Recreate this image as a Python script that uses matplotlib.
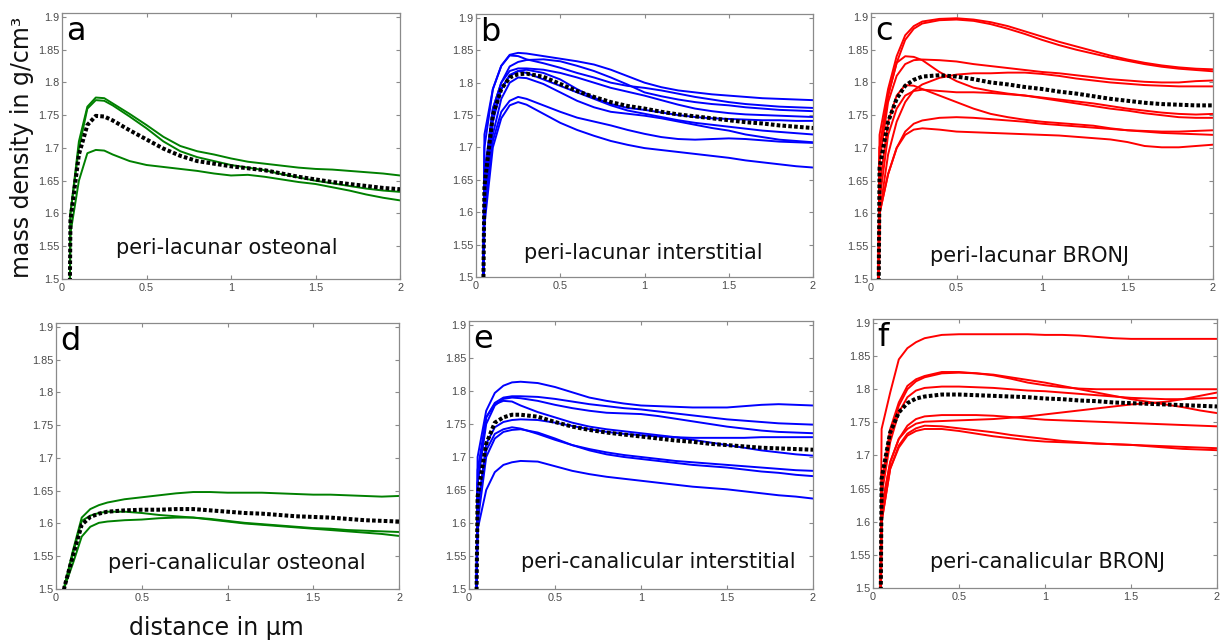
import matplotlib
matplotlib.use("Agg")
import matplotlib.pyplot as plt
from matplotlib.ticker import FuncFormatter

# distance from the lacuna / canaliculus wall (µm)
distance = [0.04, 0.05, 0.1, 0.15, 0.2, 0.25, 0.3, 0.4, 0.5, 0.6, 0.7, 0.8,
            0.9, 1.0, 1.1, 1.2, 1.3, 1.4, 1.5, 1.6, 1.7, 1.8, 1.9, 2.0]

# ---- peri-lacunar, osteonal (g/cm^3) ----
lac_osteonal = [
    [1.30, 1.60, 1.71, 1.763, 1.777, 1.776, 1.768, 1.752, 1.735, 1.717, 1.703, 1.695,
     1.690, 1.684, 1.679, 1.676, 1.673, 1.670, 1.668, 1.667, 1.665, 1.663, 1.661, 1.658],
    [1.30, 1.60, 1.70, 1.760, 1.773, 1.772, 1.765, 1.748, 1.730, 1.710, 1.695, 1.686,
     1.680, 1.674, 1.670, 1.666, 1.660, 1.655, 1.650, 1.646, 1.642, 1.638, 1.635, 1.633],
    [1.30, 1.57, 1.65, 1.692, 1.697, 1.696, 1.690, 1.680, 1.674, 1.671, 1.668, 1.665,
     1.661, 1.658, 1.659, 1.656, 1.652, 1.648, 1.645, 1.640, 1.635, 1.629, 1.624, 1.620],
]
lac_osteonal_mean = [1.30, 1.59, 1.69, 1.735, 1.749, 1.748, 1.742, 1.727, 1.713, 1.699,
                     1.688, 1.680, 1.676, 1.672, 1.669, 1.666, 1.661, 1.656, 1.652, 1.648,
                     1.645, 1.642, 1.639, 1.637]

# ---- peri-lacunar, interstitial ----
lac_interstitial = [
    [1.40, 1.70, 1.79, 1.826, 1.843, 1.846, 1.845, 1.841, 1.837, 1.833, 1.828, 1.820,
     1.810, 1.800, 1.793, 1.788, 1.785, 1.782, 1.780, 1.778, 1.776, 1.775, 1.774, 1.773],
    [1.40, 1.72, 1.79, 1.826, 1.842, 1.841, 1.836, 1.830, 1.823, 1.815, 1.808, 1.800,
     1.795, 1.792, 1.788, 1.783, 1.778, 1.774, 1.770, 1.767, 1.765, 1.763, 1.762, 1.761],
    [1.40, 1.66, 1.76, 1.800, 1.825, 1.832, 1.835, 1.836, 1.833, 1.826, 1.818, 1.808,
     1.797, 1.785, 1.779, 1.774, 1.770, 1.767, 1.765, 1.762, 1.760, 1.758, 1.757, 1.756],
    [1.40, 1.65, 1.76, 1.800, 1.818, 1.822, 1.822, 1.820, 1.815, 1.808, 1.800, 1.792,
     1.786, 1.780, 1.773, 1.766, 1.760, 1.756, 1.753, 1.751, 1.750, 1.749, 1.748, 1.747],
    [1.40, 1.64, 1.75, 1.790, 1.810, 1.818, 1.820, 1.815, 1.805, 1.790, 1.777, 1.767,
     1.761, 1.758, 1.754, 1.750, 1.747, 1.745, 1.744, 1.743, 1.742, 1.742, 1.741, 1.741],
    [1.40, 1.62, 1.74, 1.790, 1.812, 1.818, 1.815, 1.805, 1.795, 1.785, 1.775, 1.765,
     1.757, 1.752, 1.747, 1.742, 1.738, 1.735, 1.732, 1.729, 1.726, 1.724, 1.722, 1.720],
    [1.40, 1.60, 1.72, 1.775, 1.800, 1.808, 1.807, 1.798, 1.785, 1.772, 1.762, 1.755,
     1.752, 1.749, 1.745, 1.740, 1.735, 1.730, 1.726, 1.720, 1.716, 1.712, 1.710, 1.708],
    [1.40, 1.60, 1.71, 1.755, 1.772, 1.778, 1.775, 1.765, 1.755, 1.746, 1.740, 1.734,
     1.727, 1.721, 1.716, 1.713, 1.712, 1.713, 1.714, 1.713, 1.711, 1.709, 1.708, 1.707],
    [1.40, 1.58, 1.70, 1.745, 1.765, 1.770, 1.766, 1.752, 1.738, 1.727, 1.718, 1.710,
     1.704, 1.699, 1.696, 1.693, 1.690, 1.687, 1.684, 1.680, 1.677, 1.674, 1.671, 1.669],
]
lac_interstitial_mean = [1.40, 1.64, 1.75, 1.790, 1.808, 1.813, 1.814, 1.809, 1.798, 1.787,
                         1.778, 1.770, 1.764, 1.760, 1.755, 1.751, 1.748, 1.745, 1.742, 1.739,
                         1.737, 1.734, 1.732, 1.730]

# ---- peri-lacunar, BRONJ ----
lac_bronj = [
    [1.40, 1.72, 1.79, 1.840, 1.872, 1.886, 1.893, 1.897, 1.898, 1.896, 1.892, 1.886,
     1.878, 1.870, 1.862, 1.855, 1.848, 1.841, 1.835, 1.830, 1.826, 1.823, 1.821, 1.820],
    [1.40, 1.70, 1.78, 1.830, 1.865, 1.882, 1.890, 1.895, 1.896, 1.894, 1.889, 1.882,
     1.874, 1.865, 1.857, 1.850, 1.844, 1.838, 1.833, 1.828, 1.824, 1.821, 1.819, 1.817],
    [1.40, 1.70, 1.78, 1.830, 1.840, 1.839, 1.834, 1.816, 1.802, 1.792, 1.787, 1.783,
     1.780, 1.777, 1.774, 1.771, 1.768, 1.764, 1.760, 1.757, 1.754, 1.752, 1.751, 1.752],
    [1.40, 1.68, 1.77, 1.810, 1.828, 1.834, 1.835, 1.834, 1.832, 1.828, 1.825, 1.822,
     1.819, 1.816, 1.814, 1.811, 1.808, 1.805, 1.803, 1.801, 1.800, 1.800, 1.802, 1.803],
    [1.30, 1.60, 1.69, 1.740, 1.770, 1.788, 1.797, 1.807, 1.812, 1.814, 1.814, 1.815,
     1.815, 1.813, 1.810, 1.806, 1.803, 1.800, 1.798, 1.796, 1.795, 1.794, 1.794, 1.794],
    [1.40, 1.64, 1.74, 1.780, 1.796, 1.795, 1.790, 1.780, 1.770, 1.760, 1.752, 1.747,
     1.743, 1.740, 1.738, 1.736, 1.734, 1.730, 1.727, 1.726, 1.725, 1.725, 1.726, 1.727],
    [1.40, 1.62, 1.72, 1.760, 1.780, 1.787, 1.789, 1.787, 1.785, 1.785, 1.784, 1.782,
     1.780, 1.776, 1.772, 1.768, 1.764, 1.760, 1.757, 1.753, 1.750, 1.747, 1.746, 1.746],
    [1.30, 1.60, 1.66, 1.700, 1.725, 1.737, 1.742, 1.746, 1.747, 1.746, 1.744, 1.742,
     1.740, 1.737, 1.735, 1.733, 1.731, 1.729, 1.727, 1.725, 1.723, 1.722, 1.721, 1.720],
    [1.30, 1.60, 1.66, 1.700, 1.720, 1.728, 1.730, 1.728, 1.725, 1.724, 1.723, 1.722,
     1.721, 1.720, 1.719, 1.717, 1.715, 1.713, 1.709, 1.703, 1.701, 1.701, 1.703, 1.705],
]
lac_bronj_mean = [1.30, 1.67, 1.74, 1.775, 1.795, 1.804, 1.809, 1.811, 1.809, 1.805,
                  1.800, 1.797, 1.793, 1.790, 1.786, 1.783, 1.779, 1.775, 1.772, 1.769,
                  1.767, 1.766, 1.765, 1.765]

# ---- peri-canalicular, osteonal ----
can_osteonal = [
    [1.49, 1.505, 1.560, 1.609, 1.622, 1.628, 1.632, 1.637, 1.640, 1.643, 1.646, 1.648,
     1.648, 1.647, 1.647, 1.647, 1.646, 1.645, 1.644, 1.644, 1.643, 1.642, 1.641, 1.642],
    [1.49, 1.505, 1.555, 1.604, 1.612, 1.616, 1.618, 1.618, 1.616, 1.613, 1.611, 1.609,
     1.606, 1.603, 1.600, 1.598, 1.596, 1.594, 1.592, 1.590, 1.588, 1.586, 1.584, 1.581],
    [1.49, 1.503, 1.540, 1.580, 1.595, 1.601, 1.603, 1.605, 1.606, 1.608, 1.609, 1.609,
     1.607, 1.604, 1.601, 1.599, 1.597, 1.595, 1.593, 1.592, 1.590, 1.589, 1.588, 1.587],
]
can_osteonal_mean = [1.49, 1.504, 1.552, 1.598, 1.610, 1.615, 1.618, 1.620, 1.621, 1.621,
                     1.622, 1.622, 1.620, 1.618, 1.616, 1.615, 1.613, 1.611, 1.610, 1.609,
                     1.607, 1.605, 1.604, 1.603]

# ---- peri-canalicular, interstitial ----
can_interstitial = [
    [1.40, 1.70, 1.77, 1.797, 1.808, 1.813, 1.814, 1.812, 1.806, 1.798, 1.790, 1.785,
     1.781, 1.778, 1.777, 1.776, 1.775, 1.775, 1.775, 1.777, 1.779, 1.780, 1.779, 1.778],
    [1.40, 1.68, 1.76, 1.782, 1.790, 1.792, 1.792, 1.791, 1.788, 1.784, 1.780, 1.777,
     1.774, 1.772, 1.769, 1.766, 1.763, 1.760, 1.757, 1.755, 1.753, 1.751, 1.750, 1.749],
    [1.40, 1.66, 1.75, 1.778, 1.788, 1.790, 1.789, 1.785, 1.779, 1.774, 1.770, 1.767,
     1.766, 1.765, 1.762, 1.758, 1.754, 1.750, 1.746, 1.743, 1.740, 1.738, 1.737, 1.736],
    [1.40, 1.66, 1.76, 1.780, 1.785, 1.784, 1.778, 1.768, 1.760, 1.752, 1.746, 1.742,
     1.739, 1.736, 1.733, 1.730, 1.726, 1.722, 1.718, 1.714, 1.710, 1.707, 1.704, 1.702],
    [1.40, 1.62, 1.72, 1.745, 1.753, 1.756, 1.757, 1.756, 1.752, 1.747, 1.742, 1.738,
     1.735, 1.733, 1.731, 1.730, 1.729, 1.729, 1.729, 1.729, 1.730, 1.730, 1.730, 1.730],
    [1.40, 1.62, 1.71, 1.735, 1.742, 1.745, 1.743, 1.735, 1.726, 1.718, 1.712, 1.707,
     1.703, 1.700, 1.697, 1.694, 1.692, 1.690, 1.688, 1.686, 1.684, 1.682, 1.680, 1.679],
    [1.40, 1.60, 1.70, 1.728, 1.738, 1.741, 1.742, 1.737, 1.728, 1.718, 1.710, 1.704,
     1.700, 1.697, 1.694, 1.691, 1.688, 1.686, 1.684, 1.681, 1.678, 1.676, 1.673, 1.671],
    [1.40, 1.59, 1.65, 1.677, 1.688, 1.692, 1.694, 1.693, 1.686, 1.679, 1.674, 1.670,
     1.667, 1.664, 1.661, 1.658, 1.655, 1.653, 1.651, 1.648, 1.645, 1.642, 1.640, 1.637],
]
can_interstitial_mean = [1.40, 1.64, 1.72, 1.752, 1.760, 1.764, 1.764, 1.761, 1.753, 1.746,
                         1.741, 1.737, 1.734, 1.731, 1.728, 1.725, 1.723, 1.720, 1.718, 1.716,
                         1.714, 1.713, 1.712, 1.711]

# ---- peri-canalicular, BRONJ ----
can_bronj = [
    [1.40, 1.74, 1.795, 1.845, 1.862, 1.871, 1.877, 1.882, 1.883, 1.883, 1.883, 1.883,
     1.883, 1.882, 1.882, 1.881, 1.879, 1.877, 1.876, 1.876, 1.876, 1.876, 1.876, 1.876],
    [1.40, 1.66, 1.74, 1.780, 1.805, 1.815, 1.820, 1.826, 1.826, 1.824, 1.821, 1.816,
     1.810, 1.806, 1.803, 1.801, 1.800, 1.800, 1.800, 1.800, 1.800, 1.800, 1.800, 1.800],
    [1.40, 1.66, 1.73, 1.775, 1.800, 1.812, 1.818, 1.824, 1.825, 1.824, 1.822, 1.818,
     1.814, 1.810, 1.805, 1.800, 1.795, 1.790, 1.785, 1.781, 1.777, 1.773, 1.768, 1.764],
    [1.40, 1.64, 1.72, 1.765, 1.788, 1.798, 1.802, 1.804, 1.804, 1.803, 1.802, 1.800,
     1.798, 1.797, 1.795, 1.793, 1.791, 1.789, 1.787, 1.786, 1.785, 1.785, 1.786, 1.787],
    [1.30, 1.62, 1.69, 1.725, 1.745, 1.755, 1.759, 1.761, 1.761, 1.761, 1.760, 1.758,
     1.756, 1.754, 1.753, 1.752, 1.751, 1.750, 1.749, 1.748, 1.747, 1.746, 1.745, 1.744],
    [1.30, 1.62, 1.69, 1.725, 1.740, 1.748, 1.751, 1.752, 1.753, 1.754, 1.755, 1.757,
     1.759, 1.762, 1.765, 1.768, 1.771, 1.774, 1.777, 1.779, 1.781, 1.785, 1.790, 1.795],
    [1.30, 1.60, 1.68, 1.715, 1.733, 1.741, 1.745, 1.744, 1.741, 1.738, 1.735, 1.731,
     1.728, 1.725, 1.722, 1.720, 1.718, 1.717, 1.716, 1.715, 1.714, 1.713, 1.712, 1.711],
    [1.30, 1.60, 1.68, 1.712, 1.730, 1.737, 1.740, 1.740, 1.737, 1.733, 1.729, 1.726,
     1.723, 1.721, 1.720, 1.719, 1.718, 1.717, 1.716, 1.714, 1.712, 1.710, 1.709, 1.708],
]
can_bronj_mean = [1.30, 1.665, 1.735, 1.765, 1.779, 1.786, 1.789, 1.792, 1.792, 1.791,
                  1.790, 1.789, 1.788, 1.786, 1.785, 1.783, 1.782, 1.780, 1.779, 1.778,
                  1.777, 1.776, 1.775, 1.774]

panel_letters = ["a", "b", "c", "d", "e", "f"]
panel_titles = ["peri-lacunar osteonal", "peri-lacunar interstitial", "peri-lacunar BRONJ",
                "peri-canalicular osteonal", "peri-canalicular interstitial",
                "peri-canalicular BRONJ"]
x_ticks = [0, 0.5, 1, 1.5, 2]
y_ticks = [1.5, 1.55, 1.6, 1.65, 1.7, 1.75, 1.8, 1.85, 1.9]

GREEN, BLUE, RED = "#008000", "#0000ff", "#ff0000"

W, H = 1223, 642
fig = plt.figure(figsize=(W / 100, H / 100), dpi=100)


def box(left, top, right, bottom):
    return [left / W, 1 - bottom / H, (right - left) / W, (bottom - top) / H]


panels = [
    # curves, mean, colour, axes box (px), title position (data)
    (lac_osteonal, lac_osteonal_mean, GREEN, box(62, 13, 400, 279), (0.975, 1.547)),
    (lac_interstitial, lac_interstitial_mean, BLUE, box(476, 14, 813, 277), (0.995, 1.537)),
    (lac_bronj, lac_bronj_mean, RED, box(871, 13, 1213, 279), (0.925, 1.535)),
    (can_osteonal, can_osteonal_mean, GREEN, box(56, 323, 399, 589), (1.055, 1.539)),
    (can_interstitial, can_interstitial_mean, BLUE, box(469, 321, 813, 589), (1.10, 1.541)),
    (can_bronj, can_bronj_mean, RED, box(873, 319, 1217, 588), (1.015, 1.539)),
]

spine_grey = "#8a8a8a"
tick_grey = "#4a4a4a"
fmt = FuncFormatter(lambda v, p: "%g" % v)

for i, (curves, mean, colour, rect, title_xy) in enumerate(panels):
    ax = fig.add_axes(rect)
    for c in curves:
        ax.plot(distance, c, color=colour, lw=1.4, solid_capstyle="round", zorder=2)
    ax.plot(distance, mean, color="black", lw=2.9, linestyle=(0, (0.9, 0.55)),
            dash_capstyle="butt", zorder=3)

    ax.set_xlim(0, 2)
    ax.set_ylim(1.5, 1.906)
    ax.set_xticks(x_ticks)
    ax.set_yticks(y_ticks)
    ax.xaxis.set_major_formatter(fmt)
    ax.yaxis.set_major_formatter(fmt)
    ax.tick_params(direction="in", length=3, width=0.8, color=spine_grey,
                   top=True, right=True, labelsize=7.8, labelcolor=tick_grey,
                   labelfontfamily="Liberation Sans")
    ax.tick_params(axis="y", pad=2)
    ax.tick_params(axis="x", pad=3)
    for s in ax.spines.values():
        s.set_color(spine_grey)
        s.set_linewidth(0.9)

    ax.text(0.012, 0.99, panel_letters[i], transform=ax.transAxes, ha="left", va="top",
            fontsize=23, color="black", family="DejaVu Sans")
    ax.text(title_xy[0], title_xy[1], panel_titles[i], ha="center", va="center",
            fontsize=15, color="#111111", family="DejaVu Sans")

fig.text(22 / W, 1 - 147 / H, "mass density in g/cm³", rotation=90, ha="center",
         va="center", fontsize=17, family="DejaVu Sans", color="#111111")
fig.text(216 / W, 1 - 628 / H, "distance in µm", ha="center", va="center",
         fontsize=17, family="DejaVu Sans", color="#111111")

fig.savefig("out.png", dpi=100, facecolor="white")
